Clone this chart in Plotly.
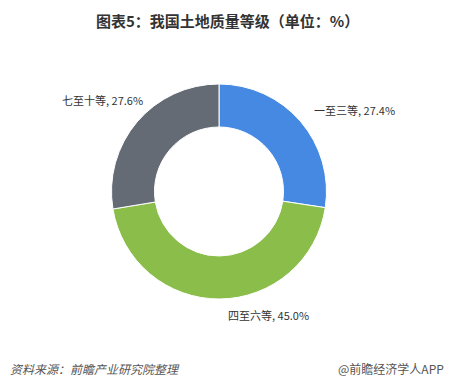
import plotly.graph_objects as go

categories = ["一至三等", "四至六等", "七至十等"]
shares = [27.4, 45.0, 27.6]
colors = ["#4589E2", "#8ABD4A", "#646B75"]

W, H = 454, 385

fig = go.Figure(go.Pie(
    labels=categories,
    values=shares,
    hole=0.6,
    sort=False,
    direction="clockwise",
    rotation=0,
    textinfo="none",
    hoverinfo="label+percent",
    marker=dict(colors=colors, line=dict(color="#FFFFFF", width=1)),
    domain=dict(x=[111 / W, 327 / W], y=[1 - 299 / H, 1 - 84 / H]),
    showlegend=False,
))

# outside labels for each slice, text built from the data
label_pos = [(312, 110, "left"), (226, 315, "left"), (145, 100, "right")]
for (px, py, anchor), name, val in zip(label_pos, categories, shares):
    fig.add_annotation(
        x=px / W, y=1 - py / H, xref="paper", yref="paper",
        text=f"{name}, {val:.1f}%", showarrow=False,
        xanchor=anchor, yanchor="middle",
        font=dict(size=11, color="#333333", family="Noto Sans CJK SC"),
    )

fig.add_annotation(
    x=0.5, y=1 - 20 / H, xref="paper", yref="paper",
    text="<b>图表5：我国土地质量等级（单位：%）</b>", showarrow=False,
    xanchor="center", yanchor="middle",
    font=dict(size=15, color="#333333", family="Noto Sans CJK SC"),
)
fig.add_annotation(
    x=8 / W, y=1 - 368 / H, xref="paper", yref="paper",
    text="<i>资料来源：前瞻产业研究院整理</i>", showarrow=False,
    xanchor="left", yanchor="middle",
    font=dict(size=12, color="#555555", family="Noto Sans CJK SC"),
)
fig.add_annotation(
    x=446 / W, y=1 - 368 / H, xref="paper", yref="paper",
    text="@前瞻经济学人APP", showarrow=False,
    xanchor="right", yanchor="middle",
    font=dict(size=12, color="#555555", family="Noto Sans CJK SC"),
)

fig.update_layout(
    width=W, height=H,
    margin=dict(l=0, r=0, t=0, b=0),
    paper_bgcolor="#FFFFFF", plot_bgcolor="#FFFFFF",
)

fig.write_html("out.html")
